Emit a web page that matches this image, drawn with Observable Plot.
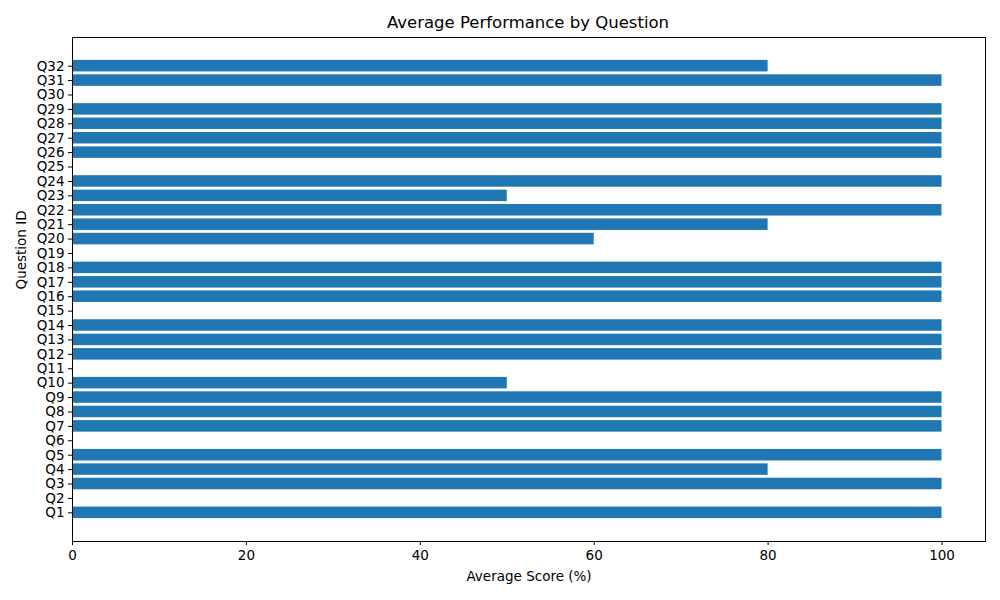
<!DOCTYPE html>
<html>
<head>
<meta charset="utf-8">
<script src="https://cdn.jsdelivr.net/npm/d3@7"></script>
<script src="https://cdn.jsdelivr.net/npm/@observablehq/plot@0.6"></script>
<style>
  body { margin: 0; background: #fff; font-family: "DejaVu Sans", sans-serif; }
  #title { height: 36px; width: 1000px; position: relative; }
  #title span { position: absolute; left: 528px; top: 13px; transform: translateX(-50%);
    font-size: 16.5px; white-space: nowrap; color: #000; }
</style>
</head>
<body>
<div id="title"><span>Average Performance by Question</span></div>
<div id="chart"></div>
<script>
// questions Q1..Q32 and their average score (%)
var questions = ["Q1","Q2","Q3","Q4","Q5","Q6","Q7","Q8","Q9","Q10","Q11","Q12","Q13","Q14","Q15","Q16",
                 "Q17","Q18","Q19","Q20","Q21","Q22","Q23","Q24","Q25","Q26","Q27","Q28","Q29","Q30","Q31","Q32"];
var scores = [100, 0, 100, 80, 100, 0, 100, 100, 100, 50, 0, 100, 100, 100, 0, 100,
              100, 100, 0, 60, 80, 100, 50, 100, 0, 100, 100, 100, 100, 0, 100, 80];
var xTicks = [0, 20, 40, 60, 80, 100];

var data = questions.map((q, i) => ({ question: q, score: scores[i] }));

var chart = Plot.plot({
  width: 1000,
  height: 564,
  marginLeft: 72,
  marginRight: 15,
  marginTop: 1,
  marginBottom: 59,
  style: { fontFamily: "DejaVu Sans, sans-serif", fontSize: "13.5px", color: "#000", background: "#fff" },
  x: { domain: [0, 105], ticks: xTicks, label: null },
  y: { domain: questions.slice().reverse(), paddingInner: 0.2, paddingOuter: 1.59, round: false, label: null },
  marks: [
    Plot.barX(data, { x: "score", y: "question", fill: "#1f77b4" }),
    Plot.frame({ stroke: "#000", strokeWidth: 1 }),
    Plot.axisX({ ticks: xTicks, tickSize: 4, tickPadding: 5, fontSize: 13.5, label: null }),
    Plot.axisY({ tickSize: 4, tickPadding: 4, fontSize: 13.5, label: null }),
    Plot.text(["Average Score (%)"], { frameAnchor: "bottom", dy: 39, fontSize: 13.5 }),
    Plot.text(["Question ID"], { frameAnchor: "left", dx: -51, rotate: -90, fontSize: 13.5 })
  ]
});
d3.select("#chart").append(() => chart);
</script>
</body>
</html>
